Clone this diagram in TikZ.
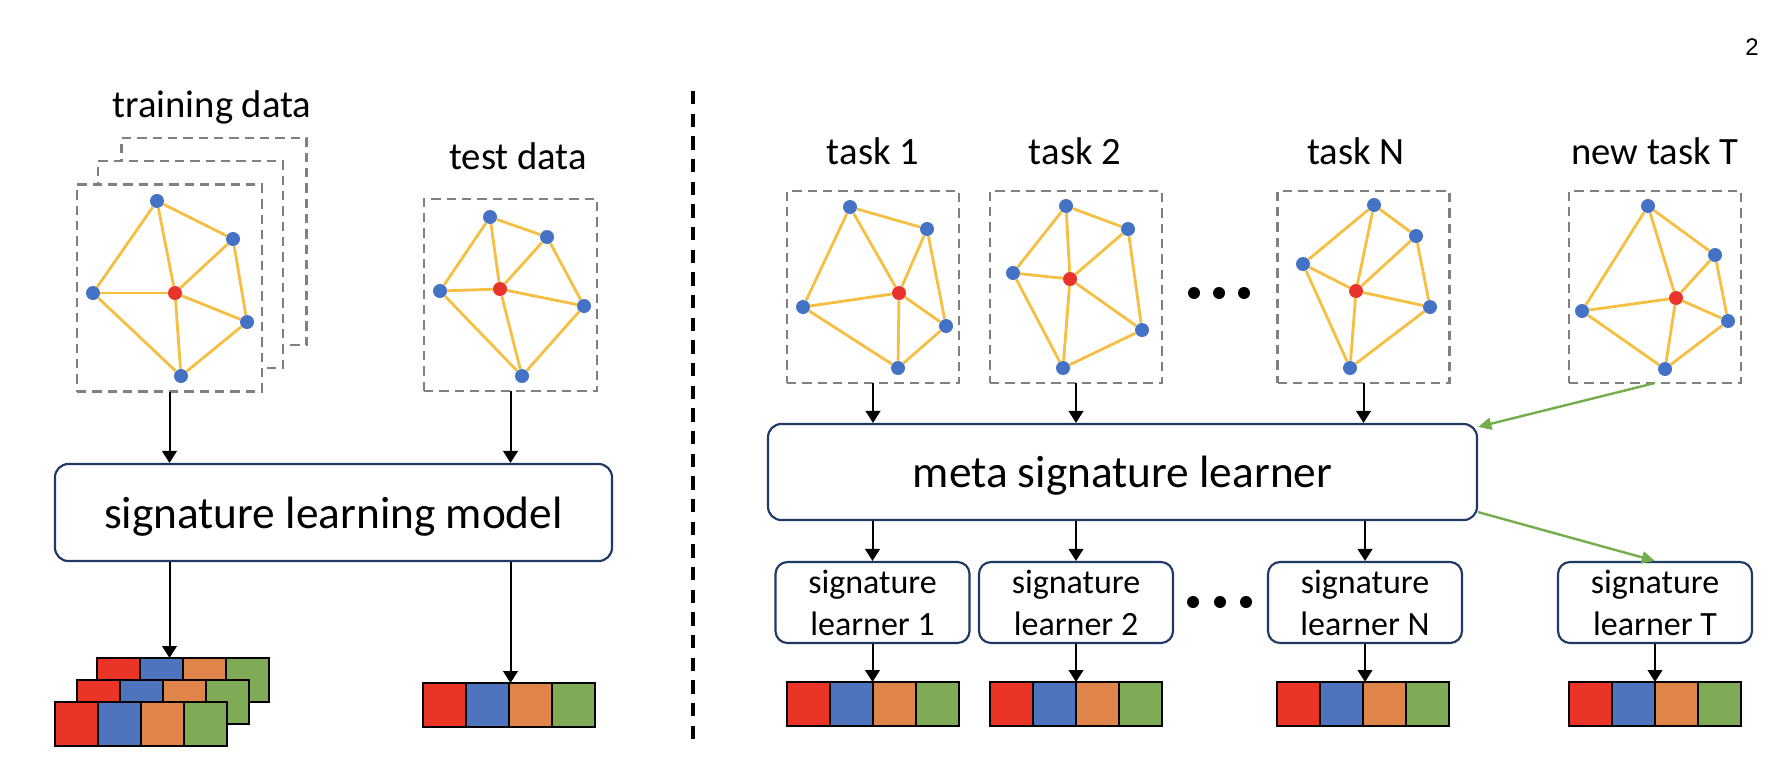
\documentclass[tikz,border=0pt]{standalone}
\usepackage{fontspec}
\setmainfont{Carlito}
\newfontfamily\pagenumfont{Liberation Sans}
\usepackage{xcolor}
\usetikzlibrary{arrows.meta,calc}

\definecolor{nodeblue}{HTML}{4472C4}
\definecolor{hubred}{HTML}{E8342A}
\definecolor{edgeyellow}{HTML}{F6BF42}
\definecolor{framegray}{HTML}{808080}
\definecolor{boxnavy}{HTML}{1F3864}
\definecolor{cellred}{HTML}{E93426}
\definecolor{cellblue}{HTML}{4E74BE}
\definecolor{cellorange}{HTML}{E0854A}
\definecolor{cellgreen}{HTML}{7FAA56}
\definecolor{arrowgreen}{HTML}{74AD4C}

\tikzset{
  vtx/.style={circle, fill=nodeblue, inner sep=0pt, minimum size=10.5pt},
  hub/.style={vtx, fill=hubred},
  gedge/.style={draw=edgeyellow, line width=2.1pt},
  pxbox/.style 2 args={minimum width=#1*0.75pt, minimum height=#2*0.75pt},
  dataframe/.style={draw=framegray, fill=white, line width=1.8pt, dash pattern=on 7pt off 4.5pt, inner sep=0pt, outer sep=0pt},
  bigbox/.style={draw=boxnavy, fill=white, line width=1.6pt, rounded corners=10pt, inner sep=0pt, text depth=0pt, font=\fontsize{34}{40}\selectfont},
  sigbox/.style={draw=boxnavy, fill=white, line width=1.6pt, rounded corners=9pt, inner sep=0pt, align=center, font=\fontsize{25.5}{31.5}\selectfont},
  sigcell/.style={draw=black, line width=1.8pt, inner sep=0pt, outer sep=0pt, minimum width=32.25pt, minimum height=33pt, anchor=north west},
  tasklabel/.style={font=\fontsize{29}{35}\selectfont, anchor=base, inner sep=0pt},
  arr/.style={-{Triangle[length=9pt,width=11pt]}, line width=1.5pt},
  garr/.style={-{Triangle[length=10pt,width=9pt]}, draw=arrowgreen, line width=1.8pt},
  ellipsisdot/.style={circle, fill=black, inner sep=0pt, minimum size=9pt},
  divider/.style={line width=2.6pt, dash pattern=on 10pt off 7pt}
}

% graph: prefix, top, right-top, left, centre, right-bottom, bottom
\newcommand{\taskgraph}[7]{%
  \node[vtx] (#1t) at (#2) {};
  \node[vtx] (#1r) at (#3) {};
  \node[vtx] (#1l) at (#4) {};
  \node[hub] (#1c) at (#5) {};
  \node[vtx] (#1s) at (#6) {};
  \node[vtx] (#1b) at (#7) {};
  \foreach \u/\v in {l/t,t/c,t/r,r/c,r/s,l/c,l/b,c/b,c/s,s/b}
    \draw[gedge] (#1\u) -- (#1\v);
}

% signature bar: name, left, top
\newcommand{\sigbar}[3]{%
  \foreach \c [count=\i from 0] in {cellred,cellblue,cellorange,cellgreen}
    \node[sigcell, fill=\c] (#1-\i) at (#2+43*\i,#3) {};
}

\begin{document}
\begin{tikzpicture}[x=0.75pt,y=0.75pt,yscale=-1,xscale=1]
\useasboundingbox (0,0) rectangle (1790,764);

% Page number
\node[font=\pagenumfont\fontsize{18}{20}\selectfont, inner sep=0pt] (pagenum) at (1752,47) {2};

%%% left part
% Text Node
\node[tasklabel] (lblTrain) at (212,117) {training data};
% Text Node
\node[tasklabel] (lblTest) at (518,169) {test data};

\node[dataframe, pxbox={185}{207}] (frC) at (214,241.5) {};
\node[dataframe, pxbox={185}{207}] (frB) at (190.5,264.5) {};
\node[dataframe, pxbox={185}{207}] (frA) at (169.5,288) {};
\node[dataframe, pxbox={173}{192}] (frTest) at (510.5,295) {};

\taskgraph{ga}{157,201}{233,239}{93,293}{175,293}{247,322}{181,376}
\taskgraph{gt}{490,217}{547,237}{440,291}{500,289}{584,306}{522,376}

\node[bigbox, pxbox={557}{97}] (slm) at (333.5,512.5) {signature learning model};

\sigbar{barC}{97}{658}
\sigbar{barB}{77}{680}
\sigbar{barA}{55}{702}
\sigbar{barTest}{423}{683}

\draw[arr] (frA.south) -- (frA.south |- slm.north);
\draw[arr] (frTest.south) -- (frTest.south |- slm.north);
\draw[arr] (frA.south |- slm.south) -- (frA.south |- barC-0.north);
\draw[arr] (frTest.south |- slm.south) -- (frTest.south |- barTest-0.north);

% Straight Lines
\coordinate (divTop) at (693,91);
\coordinate (divBot) at (693,742);
\draw[divider] (divTop) -- (divBot);

%%% right part
% Text Node
\node[tasklabel] (lbl1) at (873,164) {task 1};
% Text Node
\node[tasklabel] (lbl2) at (1075,164) {task 2};
% Text Node
\node[tasklabel] (lblN) at (1356,164) {task N};
% Text Node
\node[tasklabel] (lblT) at (1655,164) {new task T};

\node[dataframe, pxbox={172}{192}] (fr1) at (873,287) {};
\node[dataframe, pxbox={172}{192}] (fr2) at (1076,287) {};
\node[dataframe, pxbox={172}{192}] (frN) at (1363.5,287) {};
\node[dataframe, pxbox={172}{192}] (frT) at (1655,287) {};

\taskgraph{g1}{850,207}{927,229}{803,307}{899,293}{946,326}{898,368}
\taskgraph{g2}{1066,206}{1128,229}{1013,273}{1070,279}{1142,330}{1063,368}
\taskgraph{gN}{1374,205}{1416,236}{1303,264}{1356,291}{1430,307}{1350,368}
\taskgraph{gT}{1648,206}{1715,255}{1582,311}{1676,298}{1728,321}{1665,369}

\foreach \x [count=\i] in {1194,1219,1244}
  \node[ellipsisdot] (dotUp\i) at (\x,293) {};

\node[bigbox, pxbox={709}{96}] (meta) at (1122.5,472) {meta signature learner};

\node[sigbox, pxbox={194}{81}] (sl1) at (872.5,602.5) {signature\\learner 1};
\node[sigbox, pxbox={194}{81}] (sl2) at (1076,602.5) {signature\\learner 2};
\node[sigbox, pxbox={194}{81}] (slN) at (1365,602.5) {signature\\learner N};
\node[sigbox, pxbox={194}{81}] (slT) at (1655,602.5) {signature\\learner T};

\foreach \x [count=\i] in {1193,1220,1246}
  \node[ellipsisdot] (dotLow\i) at (\x,602) {};

\sigbar{bar1}{787}{682}
\sigbar{bar2}{990}{682}
\sigbar{barN}{1277}{682}
\sigbar{barT}{1569}{682}

\foreach \k in {1,2,N} {
  \draw[arr] (fr\k.south) -- (fr\k.south |- meta.north);
  \draw[arr] (sl\k.north |- meta.south) -- (sl\k.north);
  \draw[arr] (sl\k.south) -- (sl\k.south |- bar\k-0.north);
}
\draw[arr] (slT.south) -- (slT.south |- barT-0.north);

\coordinate (metaIn) at ($(meta.north east)+(0,4)$);
\coordinate (metaOut) at ($(meta.south east)+(0,-9)$);
\draw[garr] (frT.south) -- (metaIn);
\draw[garr] (metaOut) -- (slT.north);

\end{tikzpicture}
\end{document}
